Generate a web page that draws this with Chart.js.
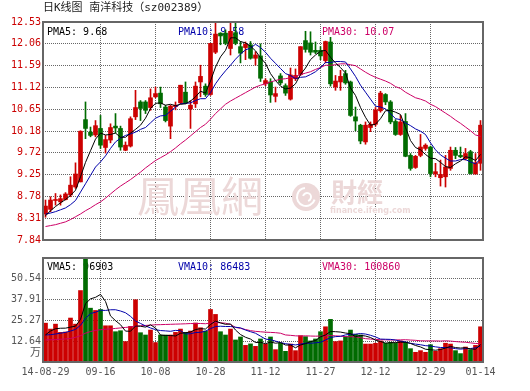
<!DOCTYPE html>
<html>
<head>
<meta charset="utf-8">
<script src="https://cdn.jsdelivr.net/npm/chart.js@4.4.1/dist/chart.umd.min.js"></script>
<style>
  html, body { margin: 0; padding: 0; background: #fff; }
  #wrap { position: relative; width: 530px; height: 391px; }
  #priceBox { position: absolute; left: 0; top: 0; width: 530px; height: 250px; }
  #volBox { position: absolute; left: 0; top: 250px; width: 530px; height: 141px; }
</style>
</head>
<body>
<div id="wrap">
  <div id="priceBox"><canvas id="priceChart"></canvas></div>
  <div id="volBox"><canvas id="volChart"></canvas></div>
</div>
<script>
// daily candles, 14-08-29 .. 15-01-14
const opens = [
  8.40, 8.50, 8.69, 8.66, 8.71, 8.81, 8.98, 9.09, 10.43, 10.16,
  10.10, 10.24, 9.83, 9.99, 10.29, 10.24, 9.77, 9.86, 10.49, 10.81,
  10.81, 10.69, 10.92, 11.00, 10.70, 10.29, 10.71, 10.79, 11.02, 10.66,
  10.77, 11.24, 11.15, 10.97, 11.88, 12.29, 12.29, 11.96, 12.30, 12.00,
  11.98, 12.04, 11.75, 11.80, 11.20, 11.24, 10.93, 11.37, 11.16, 10.87,
  11.31, 11.40, 12.13, 12.08, 11.92, 11.92, 11.70, 12.10, 11.13, 11.24,
  11.42, 11.24, 10.49, 10.31, 9.95, 10.26, 10.33, 10.62, 10.97, 10.81,
  10.39, 10.11, 10.39, 9.66, 9.40, 9.66, 9.81, 9.84, 9.26, 9.18,
  9.20, 9.38, 9.77, 9.66, 9.59, 9.74, 9.26, 9.49
];
const highs = [
  8.70, 8.77, 8.84, 8.81, 8.86, 9.20, 9.50, 10.19, 10.81, 10.27,
  10.41, 10.52, 10.09, 10.34, 10.56, 10.29, 9.95, 10.49, 11.06, 10.84,
  10.84, 11.09, 11.13, 11.13, 10.74, 10.74, 10.81, 11.17, 11.24, 10.84,
  11.24, 11.60, 11.20, 12.07, 12.52, 12.30, 12.36, 12.51, 12.52, 12.11,
  12.10, 12.11, 11.89, 12.06, 11.31, 11.31, 11.13, 11.42, 11.20, 11.54,
  11.52, 12.00, 12.33, 12.32, 12.10, 12.00, 12.12, 12.20, 11.38, 11.49,
  11.49, 11.26, 10.70, 10.33, 10.38, 10.38, 10.69, 11.04, 10.99, 10.84,
  10.43, 10.52, 10.56, 9.70, 9.66, 10.11, 9.91, 9.86, 9.49, 9.56,
  9.66, 9.84, 9.83, 9.84, 9.81, 9.77, 9.70, 10.41
];
const lows = [
  8.33, 8.45, 8.59, 8.59, 8.70, 8.77, 8.95, 9.09, 10.02, 10.06,
  10.06, 9.81, 9.71, 9.93, 10.14, 9.77, 9.76, 9.84, 10.43, 10.41,
  10.56, 10.63, 10.90, 10.69, 10.38, 10.02, 10.64, 10.77, 10.77, 10.24,
  10.69, 10.92, 10.93, 10.95, 11.85, 12.04, 12.04, 11.82, 12.04, 11.65,
  11.72, 11.73, 11.60, 11.25, 11.16, 10.80, 10.81, 11.18, 10.95, 10.85,
  11.27, 11.38, 11.88, 11.82, 11.85, 11.72, 11.65, 11.15, 11.06, 11.06,
  11.19, 10.50, 10.19, 9.91, 9.90, 10.17, 10.29, 10.59, 10.75, 10.34,
  10.09, 10.09, 9.63, 9.34, 9.38, 9.63, 9.77, 9.20, 9.20, 9.00,
  8.98, 9.34, 9.59, 9.61, 9.56, 9.26, 9.26, 9.34
];
const closes = [
  8.57, 8.70, 8.71, 8.73, 8.83, 9.02, 9.26, 10.18, 10.24, 10.09,
  10.30, 9.88, 10.00, 10.26, 10.25, 9.84, 9.88, 10.45, 10.69, 10.67,
  10.63, 10.90, 10.99, 10.77, 10.41, 10.72, 10.74, 11.17, 10.79, 10.74,
  11.15, 11.36, 10.97, 12.07, 12.27, 12.23, 12.07, 12.33, 12.07, 11.86,
  12.05, 11.75, 11.82, 11.32, 11.27, 10.96, 10.99, 11.22, 11.00, 11.39,
  11.38, 12.00, 11.94, 11.88, 11.88, 11.80, 12.11, 11.20, 11.26, 11.36,
  11.22, 10.52, 10.40, 9.97, 10.31, 10.33, 10.64, 11.00, 10.81, 10.38,
  10.11, 10.38, 9.64, 9.38, 9.64, 9.84, 9.88, 9.27, 9.31, 9.25,
  9.41, 9.77, 9.66, 9.63, 9.70, 9.27, 9.50, 10.31
];

// price moving averages
const ma5 = [
  8.36, 8.47, 8.56, 8.64, 8.71, 8.80, 8.91, 9.20, 9.51, 9.76,
  10.01, 10.14, 10.10, 10.11, 10.14, 10.05, 10.05, 10.14, 10.22, 10.31,
  10.46, 10.67, 10.78, 10.79, 10.74, 10.76, 10.73, 10.76, 10.77, 10.83,
  10.92, 11.04, 11.00, 11.26, 11.56, 11.78, 11.92, 12.19, 12.19, 12.11,
  12.08, 12.01, 11.91, 11.76, 11.64, 11.42, 11.27, 11.15, 11.09, 11.11,
  11.20, 11.40, 11.54, 11.72, 11.82, 11.90, 11.92, 11.77, 11.65, 11.55,
  11.43, 11.11, 10.95, 10.69, 10.48, 10.31, 10.33, 10.45, 10.62, 10.63,
  10.59, 10.54, 10.26, 9.98, 9.83, 9.78, 9.68, 9.60, 9.59, 9.51,
  9.42, 9.40, 9.48, 9.54, 9.63, 9.61, 9.55, 9.68
];
const ma10 = [
  8.40, 8.42, 8.45, 8.49, 8.53, 8.60, 8.69, 8.87, 9.05, 9.23,
  9.41, 9.52, 9.65, 9.81, 9.95, 10.03, 10.09, 10.12, 10.16, 10.22,
  10.26, 10.36, 10.46, 10.51, 10.52, 10.61, 10.70, 10.77, 10.78, 10.79,
  10.84, 10.88, 10.88, 11.01, 11.20, 11.35, 11.48, 11.60, 11.73, 11.84,
  11.93, 11.97, 12.05, 11.98, 11.88, 11.75, 11.64, 11.53, 11.42, 11.38,
  11.31, 11.34, 11.35, 11.40, 11.46, 11.55, 11.66, 11.66, 11.68, 11.68,
  11.67, 11.52, 11.36, 11.17, 11.02, 10.87, 10.72, 10.70, 10.66, 10.56,
  10.45, 10.43, 10.36, 10.30, 10.23, 10.18, 10.11, 9.93, 9.78, 9.67,
  9.60, 9.54, 9.54, 9.57, 9.57, 9.52, 9.48, 9.58
];
const ma30 = [
  8.13, 8.15, 8.17, 8.20, 8.23, 8.28, 8.34, 8.40, 8.47, 8.53,
  8.60, 8.66, 8.74, 8.83, 8.92, 9.00, 9.07, 9.14, 9.22, 9.30,
  9.39, 9.47, 9.55, 9.61, 9.67, 9.74, 9.82, 9.91, 9.99, 10.08,
  10.17, 10.26, 10.33, 10.44, 10.56, 10.66, 10.76, 10.83, 10.89, 10.95,
  11.01, 11.07, 11.13, 11.17, 11.20, 11.24, 11.27, 11.30, 11.31, 11.33,
  11.36, 11.40, 11.43, 11.46, 11.51, 11.55, 11.60, 11.60, 11.61, 11.63,
  11.63, 11.61, 11.59, 11.52, 11.45, 11.39, 11.34, 11.30, 11.26, 11.21,
  11.14, 11.10, 11.02, 10.96, 10.90, 10.87, 10.83, 10.76, 10.71, 10.64,
  10.57, 10.50, 10.42, 10.35, 10.27, 10.19, 10.10, 10.07
];

// volume (万)
const volumes = [
  23.6, 20.0, 23.0, 18.0, 18.2, 26.7, 23.0, 43.4, 66.0, 32.7,
  31.3, 31.9, 22.0, 22.0, 18.4, 19.0, 12.4, 21.6, 37.8, 17.8,
  16.4, 19.4, 11.8, 16.4, 16.4, 16.4, 18.0, 20.0, 18.0, 18.8,
  23.7, 20.8, 18.8, 31.9, 28.9, 18.4, 16.4, 20.0, 13.4, 15.2,
  10.1, 11.0, 9.5, 14.0, 10.9, 15.2, 7.5, 11.4, 6.5, 10.9,
  6.9, 16.0, 15.4, 12.8, 14.0, 18.4, 21.4, 25.9, 12.4, 12.8,
  15.4, 19.4, 16.8, 16.4, 10.9, 10.9, 11.4, 12.8, 11.4, 12.0,
  11.4, 12.8, 12.0, 8.1, 5.9, 6.9, 5.9, 10.5, 6.5, 8.1,
  11.4, 10.9, 6.9, 5.1, 9.1, 7.5, 10.1, 21.4
];
const vma5 = [
  16.5, 18.8, 20.2, 20.5, 20.56, 21.18, 21.78, 25.86, 35.46, 38.36,
  39.28, 41.06, 36.78, 27.98, 25.12, 22.66, 18.76, 18.68, 21.84, 21.72,
  21.2, 22.6, 20.64, 16.36, 16.08, 16.08, 15.8, 17.44, 17.76, 18.24,
  19.7, 20.26, 20.02, 22.8, 24.82, 23.76, 22.88, 23.12, 19.42, 16.68,
  15.02, 13.94, 11.84, 11.96, 11.1, 12.12, 11.42, 11.8, 10.3, 10.3,
  8.64, 10.34, 11.14, 12.4, 13.02, 15.32, 16.4, 18.5, 18.42, 18.18,
  17.58, 17.18, 15.36, 16.16, 15.78, 14.88, 13.28, 12.48, 11.48, 11.7,
  11.8, 12.08, 11.92, 11.26, 10.04, 9.14, 7.76, 7.46, 7.14, 7.58,
  8.48, 9.48, 8.76, 8.48, 8.68, 7.9, 7.74, 10.64
];
const vma10 = [
  16.4, 16.6, 17.0, 17.5, 18.0, 18.8, 19.8, 22.3, 26.5, 29.46,
  30.23, 31.42, 31.32, 31.72, 31.74, 30.97, 29.91, 27.73, 24.91, 23.42,
  21.93, 20.68, 19.66, 19.1, 18.9, 18.64, 19.2, 19.04, 17.06, 17.16,
  17.89, 18.03, 18.73, 20.28, 21.53, 21.73, 21.57, 21.57, 21.11, 20.75,
  19.39, 18.41, 17.48, 15.69, 13.89, 13.57, 12.68, 11.82, 11.13, 10.7,
  10.38, 10.88, 11.47, 11.35, 11.66, 11.98, 13.37, 14.82, 15.41, 15.6,
  16.45, 16.79, 16.93, 17.29, 16.98, 16.23, 15.23, 13.92, 13.82, 13.74,
  13.34, 12.68, 12.2, 11.37, 10.87, 10.47, 9.92, 9.69, 9.2, 8.81,
  8.81, 8.62, 8.11, 7.81, 8.13, 8.19, 8.61, 9.7
];
const vma30 = [
  13.4, 13.5, 13.6, 13.8, 14.0, 14.3, 15.0, 16.0, 17.5, 18.5,
  19.2, 19.6, 19.9, 20.1, 20.4, 20.7, 21.0, 21.3, 21.7, 22.0,
  22.2, 22.4, 22.6, 22.7, 22.8, 22.9, 23.0, 23.1, 23.2, 23.35,
  23.35, 23.38, 23.24, 23.7, 24.06, 23.78, 23.56, 22.78, 21.03, 20.44,
  19.74, 19.04, 18.62, 18.36, 18.11, 17.98, 17.82, 17.48, 16.43, 16.2,
  15.89, 15.77, 15.89, 15.77, 15.69, 15.76, 15.87, 16.07, 15.88, 15.68,
  15.41, 15.36, 15.29, 14.78, 14.18, 13.93, 13.76, 13.52, 13.45, 13.35,
  13.39, 13.45, 13.53, 13.34, 13.17, 12.89, 12.84, 12.81, 12.81, 12.72,
  12.87, 12.7, 12.41, 12.16, 11.99, 11.63, 11.25, 11.1
];
const volLegendValues = [96903, 86483, 100860];

const priceTicks = [7.84, 8.31, 8.78, 9.25, 9.72, 10.18, 10.65, 11.12, 11.59, 12.06, 12.53];
const volTicks = [12.64, 25.27, 37.91, 50.54];
const xTickIndex = [0, 11, 22, 33, 44, 55, 66, 77, 87];
const xTickText = ['14-08-29', '09-16', '10-08', '10-28', '11-12', '11-27', '12-12', '12-29', '01-14'];

const MONO = "'DejaVu Sans Mono', monospace";
const RED = '#cc0000';
const GREEN = '#006b00';
const GRID = '#666';
const PINK = '#cc0066';
const BLUE = '#0000aa';

const xLabels = closes.map((_, i) => {
    const k = xTickIndex.indexOf(i);
    return k >= 0 ? xTickText[k] : '';
});
const candleColor = closes.map((c, i) => (c >= opens[i] ? RED : GREEN));

function lineSet(label, data, color) {
    return {
        type: 'line', label: label, data: data,
        borderColor: color, borderWidth: 1,
        pointRadius: 0, tension: 0, order: 0
    };
}

function xGridColor(ctx) {
    const i = ctx.index;
    return (i > 0 && i % 11 === 0 && i < closes.length - 1) ? GRID : 'rgba(0,0,0,0)';
}

function drawFrame(chart) {
    const a = chart.chartArea;
    const ctx = chart.ctx;
    ctx.save();
    ctx.strokeStyle = '#666';
    ctx.lineWidth = 2;
    ctx.strokeRect(a.left, a.top, a.right - a.left, a.bottom - a.top);
    ctx.restore();
}

const pricePlugin = {
    id: 'pricePlugin',
    beforeDatasetsDraw(chart) {
        const ctx = chart.ctx;
        ctx.save();
        // watermark
        ctx.fillStyle = '#ecd8d8';
        ctx.textBaseline = 'middle';
        ctx.font = "42px 'Noto Sans CJK TC'";
        ctx.fillText('鳳凰網', 137, 196);
        ctx.beginPath();
        ctx.arc(306, 197, 14, 0, Math.PI * 2);
        ctx.fill();
        ctx.strokeStyle = '#fff';
        ctx.lineWidth = 2;
        ctx.beginPath();
        ctx.arc(306, 197, 9, 0.3, 4.6);
        ctx.stroke();
        ctx.beginPath();
        ctx.arc(307, 197, 4, 3.4, 7.6);
        ctx.stroke();
        ctx.font = "bold 26px 'Noto Sans CJK TC'";
        ctx.fillText('財經', 331, 192);
        ctx.font = "bold 8px 'DejaVu Sans'";
        ctx.fillText('finance.ifeng.com', 330, 211);

        // legend
        const last = closes.length - 1;
        ctx.font = '10px ' + MONO;
        ctx.fillStyle = '#000';
        ctx.fillText('PMA5: ' + ma5[last].toFixed(2), 47, 32);
        ctx.fillStyle = BLUE;
        ctx.fillText('PMA10: ' + ma10[last].toFixed(2), 178, 32);
        ctx.fillStyle = PINK;
        ctx.fillText('PMA30: ' + ma30[last].toFixed(2), 322, 32);
        ctx.restore();
    },
    afterDraw(chart) {
        drawFrame(chart);
        const ctx = chart.ctx;
        ctx.save();
        ctx.fillStyle = '#222';
        ctx.textBaseline = 'middle';
        ctx.font = "11px " + MONO + ", 'Noto Sans CJK SC'";
        ctx.fillText('日K线图 南洋科技（sz002389）', 43, 8);
        ctx.restore();
    }
};

const volPlugin = {
    id: 'volPlugin',
    beforeDatasetsDraw(chart) {
        const ctx = chart.ctx;
        ctx.save();
        ctx.textBaseline = 'middle';
        ctx.font = '10px ' + MONO;
        ctx.fillStyle = '#000';
        ctx.fillText('VMA5: ' + volLegendValues[0], 47, 17);
        ctx.fillStyle = BLUE;
        ctx.fillText('VMA10: ' + volLegendValues[1], 178, 17);
        ctx.fillStyle = PINK;
        ctx.fillText('VMA30: ' + volLegendValues[2], 322, 17);
        ctx.restore();
    },
    afterDraw(chart) {
        drawFrame(chart);
        const ctx = chart.ctx;
        ctx.save();
        ctx.fillStyle = '#555';
        ctx.textAlign = 'right';
        ctx.textBaseline = 'middle';
        ctx.font = "11px 'Noto Sans CJK SC'";
        ctx.fillText('万', 41, 102);
        ctx.restore();
    }
};

document.addEventListener("DOMContentLoaded", function () {
    // Price chart
    new Chart(document.getElementById("priceChart"), {
        type: "bar",
        data: {
            labels: xLabels,
            datasets: [
                lineSet('MA5', ma5, '#000'),
                lineSet('MA10', ma10, BLUE),
                lineSet('MA30', ma30, PINK),
                {
                    label: 'body',
                    data: opens.map((o, i) => [o, closes[i]]),
                    backgroundColor: candleColor,
                    barThickness: 4,
                    minBarLength: 1,
                    grouped: false,
                    order: 1
                },
                {
                    label: 'wick',
                    data: lows.map((l, i) => [l, highs[i]]),
                    backgroundColor: candleColor,
                    barThickness: 1,
                    grouped: false,
                    order: 2
                }
            ]
        },
        options: {
            responsive: true,
            maintainAspectRatio: false,
            animation: false,
            layout: { padding: { top: 22, right: 47, bottom: 10, left: 0 } },
            plugins: { legend: { display: false }, tooltip: { enabled: false } },
            scales: {
                x: {
                    ticks: { display: false, autoSkip: false },
                    grid: { offset: false, drawTicks: false, color: xGridColor },
                    border: { display: false, dash: [1, 1] },
                    afterFit: (s) => { s.height = 0; }
                },
                y: {
                    min: 7.84,
                    max: 12.53,
                    afterBuildTicks: (s) => { s.ticks = priceTicks.map((v) => ({ value: v })); },
                    afterFit: (s) => { s.width = 43; },
                    ticks: {
                        color: RED,
                        font: { family: MONO, size: 10 },
                        padding: 2,
                        callback: (v) => v.toFixed(2)
                    },
                    grid: {
                        drawTicks: false,
                        color: (ctx) => (ctx.tick && (ctx.tick.value === 7.84 || ctx.tick.value === 12.53)) ? 'rgba(0,0,0,0)' : GRID
                    },
                    border: { display: false, dash: [1, 1] }
                }
            }
        },
        plugins: [pricePlugin]
    });

    // Volume chart
    new Chart(document.getElementById("volChart"), {
        type: "bar",
        data: {
            labels: xLabels,
            datasets: [
                lineSet('VMA5', vma5, '#000'),
                lineSet('VMA10', vma10, BLUE),
                lineSet('VMA30', vma30, PINK),
                {
                    label: 'volume',
                    data: volumes,
                    backgroundColor: candleColor,
                    barThickness: 4,
                    order: 1
                }
            ]
        },
        options: {
            responsive: true,
            maintainAspectRatio: false,
            animation: false,
            layout: { padding: { top: 7, right: 47, bottom: 0, left: 0 } },
            plugins: { legend: { display: false }, tooltip: { enabled: false } },
            scales: {
                x: {
                    ticks: {
                        autoSkip: false,
                        maxRotation: 0,
                        minRotation: 0,
                        color: '#555',
                        font: { family: MONO, size: 10 },
                        padding: 4,
                        callback: (v, i) => xLabels[i]
                    },
                    grid: { offset: false, drawTicks: false, color: xGridColor },
                    border: { display: false, dash: [1, 1] },
                    afterFit: (s) => { s.height = 29; }
                },
                y: {
                    min: 0,
                    max: 63.17,
                    afterBuildTicks: (s) => { s.ticks = volTicks.map((v) => ({ value: v })); },
                    afterFit: (s) => { s.width = 43; },
                    ticks: {
                        color: '#555',
                        font: { family: MONO, size: 10 },
                        padding: 2,
                        callback: (v) => v.toFixed(2)
                    },
                    grid: { drawTicks: false, color: GRID },
                    border: { display: false, dash: [1, 1] }
                }
            }
        },
        plugins: [volPlugin]
    });
});
</script>
</body>
</html>
